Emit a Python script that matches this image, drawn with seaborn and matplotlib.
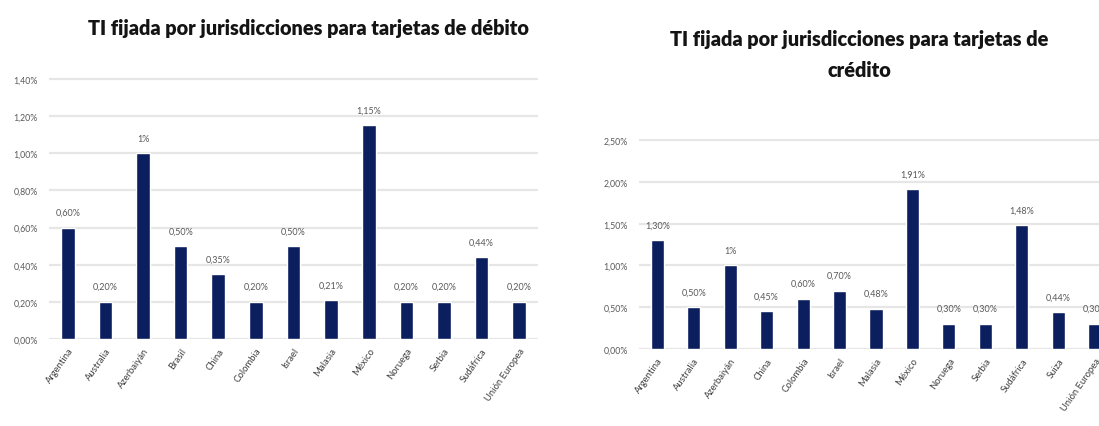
import pandas as pd
import matplotlib.pyplot as plt
import seaborn as sns

# datos (valores en %)
paises_debito = ['Argentina', 'Australia', 'Azerbaiyán', 'Brasil', 'China', 'Colombia',
                 'Israel', 'Malasia', 'México', 'Noruega', 'Serbia', 'Sudáfrica',
                 'Unión Europea']
ti_debito = [0.60, 0.20, 1.00, 0.50, 0.35, 0.20, 0.50, 0.21, 1.15, 0.20, 0.20, 0.44, 0.20]

paises_credito = ['Argentina', 'Australia', 'Azerbaiyán', 'China', 'Colombia', 'Israel',
                  'Malasia', 'México', 'Noruega', 'Serbia', 'Sudáfrica', 'Suiza',
                  'Unión Europea']
ti_credito = [1.30, 0.50, 1.00, 0.45, 0.60, 0.70, 0.48, 1.91, 0.30, 0.30, 1.48, 0.44, 0.30]

ticks_debito = [0.0, 0.2, 0.4, 0.6, 0.8, 1.0, 1.2, 1.4]
ticks_credito = [0.0, 0.5, 1.0, 1.5, 2.0, 2.5]

BAR = '#0b1f5f'
GRID = '#e6e6e6'
TXT = '#595959'


def pct(v):
    if abs(v - round(v)) < 1e-9:
        return f'{int(round(v))}%'
    return f'{v:.2f}%'.replace('.', ',')


def draw(ax, paises, valores, ticks):
    df = pd.DataFrame({'pais': paises, 'ti': valores})
    sns.barplot(data=df, x='pais', y='ti', color=BAR, width=0.36, saturation=1,
                ax=ax, zorder=3)
    ax.set_xlim(-0.5, len(paises) - 0.5)
    ax.set_ylim(0, ticks[-1] * 1.008)
    ax.set_yticks(ticks)
    ax.set_yticklabels([f'{t:.2f}%'.replace('.', ',') for t in ticks],
                       fontsize=6.3, color=TXT)
    ax.set_xticks(range(len(paises)))
    ax.set_xticklabels(paises, rotation=55, ha='right', rotation_mode='anchor',
                       fontsize=6.8, color='#404040')
    ax.tick_params(axis='y', length=0, pad=8)
    ax.tick_params(axis='x', length=0, pad=5)
    ax.grid(axis='y', color=GRID, linewidth=1.6, zorder=0)
    ax.set_axisbelow(True)
    for s in ax.spines.values():
        s.set_visible(False)
    ax.set_xlabel('')
    ax.set_ylabel('')
    for i, v in enumerate(valores):
        ax.annotate(pct(v), (i, v), xytext=(0, 11), textcoords='offset points',
                    ha='center', va='center', fontsize=6.5, color=TXT)


sns.set_style('white')
plt.rcParams['font.family'] = ['Lato', 'DejaVu Sans']

W, H = 1099, 427
fig = plt.figure(figsize=(W / 100, H / 100), dpi=100)

ax1 = fig.add_axes([49 / W, (H - 340) / H, 489 / W, 262 / H])
draw(ax1, paises_debito, ti_debito, ticks_debito)

ax2 = fig.add_axes([639 / W, (H - 350) / H, 474 / W, 210.5 / H])
draw(ax2, paises_credito, ti_credito, ticks_credito)

fig.text(308 / W, 1 - 28 / H, 'TI fijada por jurisdicciones para tarjetas de débito',
         ha='center', va='center', fontsize=14.3, fontweight='heavy', color='#141414')
fig.text(859 / W, 1 - 55 / H, 'TI fijada por jurisdicciones para tarjetas de\ncrédito',
         ha='center', va='center', fontsize=14.3, fontweight='heavy', color='#141414',
         linespacing=1.75)

fig.savefig('out.png', dpi=100)
